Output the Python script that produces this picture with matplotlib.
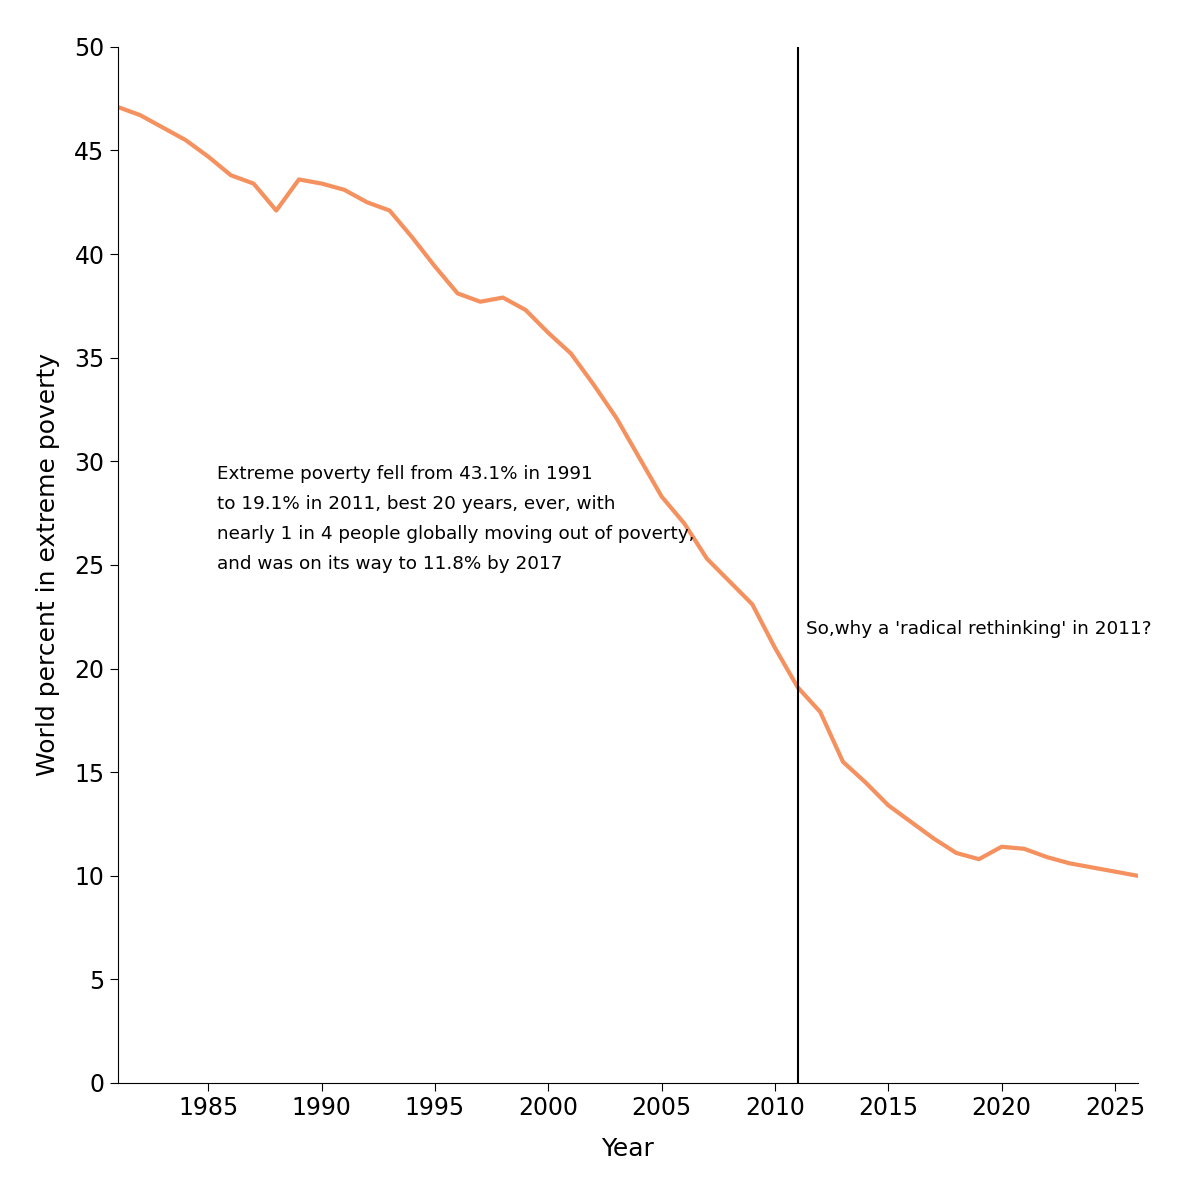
import matplotlib.pyplot as plt

years = list(range(1981, 2027))
poverty = [47.1, 46.7, 46.1, 45.5, 44.7, 43.8, 43.4, 42.1, 43.6, 43.4,
           43.1, 42.5, 42.1, 40.8, 39.4, 38.1, 37.7, 37.9, 37.3, 36.2,
           35.2, 33.7, 32.1, 30.2, 28.3, 27.0, 25.3, 24.2, 23.1, 21.0,
           19.1, 17.9, 15.5, 14.5, 13.4, 12.6, 11.8, 11.1, 10.8, 11.4,
           11.3, 10.9, 10.6, 10.4, 10.2, 10.0]
xticks = [1985, 1990, 1995, 2000, 2005, 2010, 2015, 2020, 2025]
yticks = [0, 5, 10, 15, 20, 25, 30, 35, 40, 45, 50]

plt.rcParams['font.family'] = 'DejaVu Sans'

fig = plt.figure(figsize=(12, 12), dpi=100)
ax = fig.add_axes([0.098, 0.0975, 0.85, 0.8635])

ax.plot(years, poverty, color='#f4915f', linewidth=3)
ax.axvline(2011, color='black', linewidth=1.5)

ax.set_xlim(1981, 2026)
ax.set_ylim(0, 50)
ax.set_xticks(xticks)
ax.set_yticks(yticks)
ax.tick_params(labelsize=17, length=6, direction='out')
ax.spines['top'].set_visible(False)
ax.spines['right'].set_visible(False)
ax.set_xlabel('Year', fontsize=18, labelpad=12)
ax.set_ylabel('World percent in extreme poverty', fontsize=18, labelpad=10)

ax.text(1985.4, 29.8,
        'Extreme poverty fell from 43.1% in 1991\n'
        'to 19.1% in 2011, best 20 years, ever, with\n'
        'nearly 1 in 4 people globally moving out of poverty,\n'
        'and was on its way to 11.8% by 2017',
        fontsize=13.2, va='top', ha='left', linespacing=1.85)
ax.text(2011.35, 21.9, "So,why a 'radical rethinking' in 2011?",
        fontsize=13.2, va='center', ha='left')

plt.savefig('out.png', dpi=100)
